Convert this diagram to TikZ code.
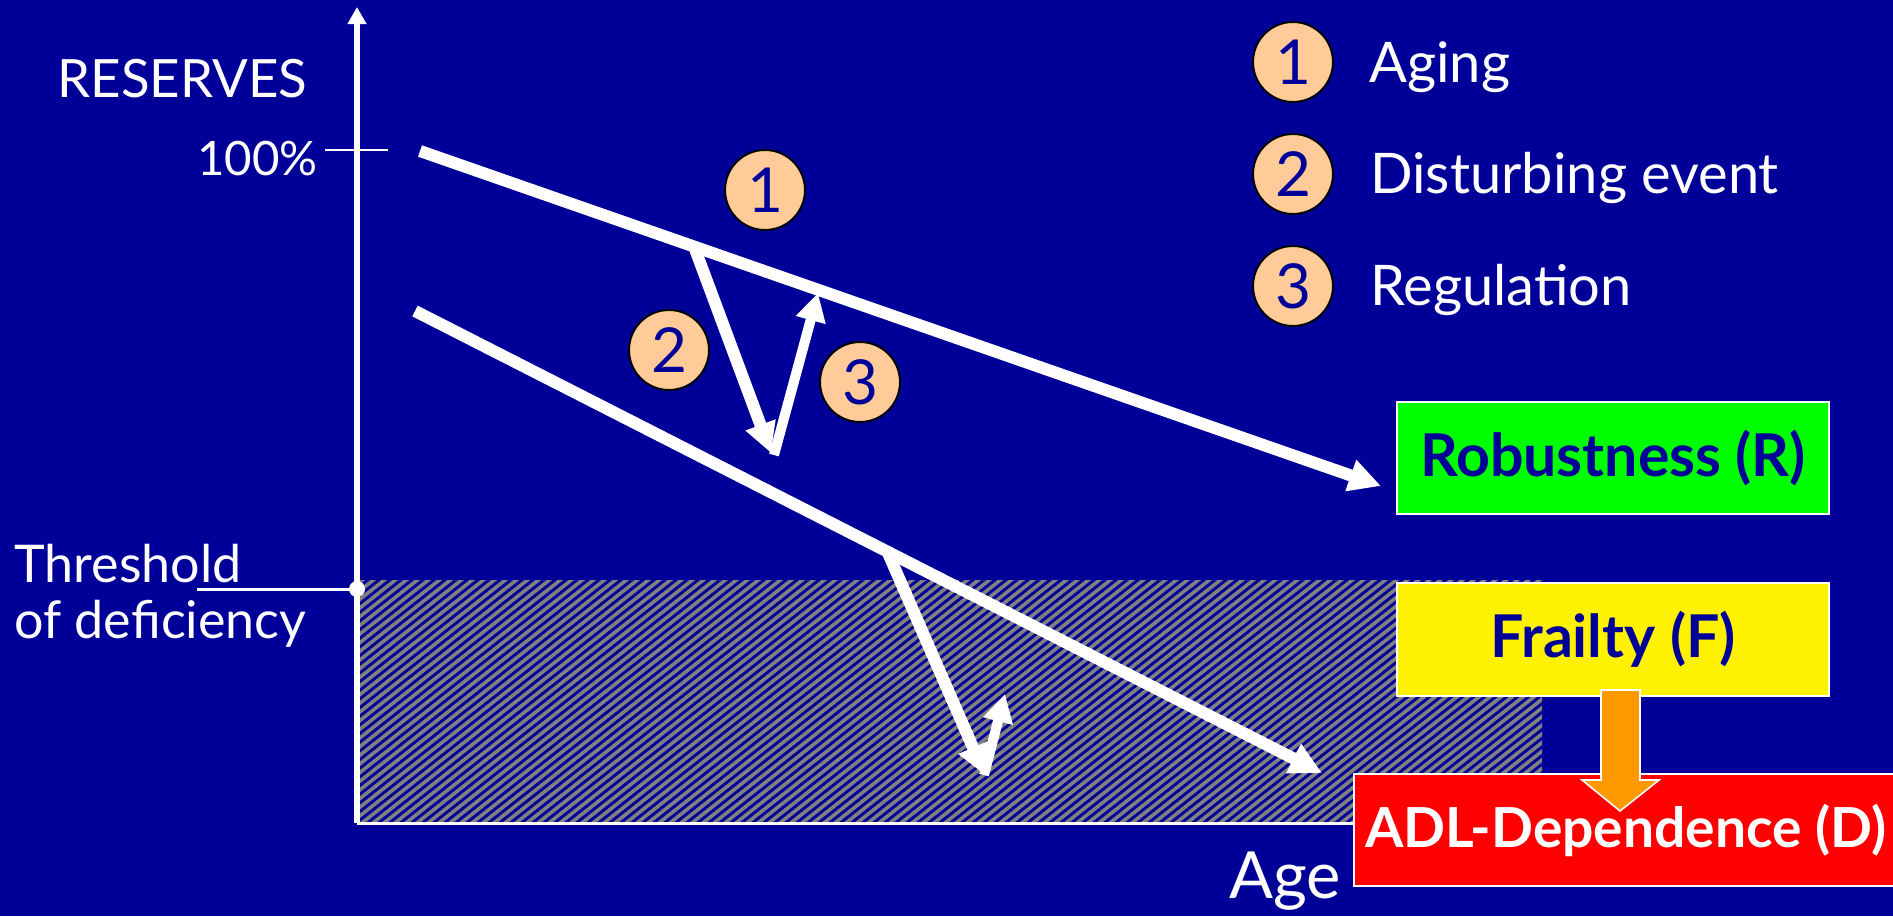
\documentclass[tikz,border=0pt]{standalone}
\usepackage{fontspec}
\setmainfont{Lato}
\usetikzlibrary{arrows.meta}
\definecolor{bg}{HTML}{000099}
\definecolor{peach}{HTML}{FFCC99}
\definecolor{hatchgray}{HTML}{808080}
\definecolor{orangearrow}{HTML}{FF9900}
\begin{document}
\begin{tikzpicture}[x=0.5pt,y=-0.5pt,
  lbl/.style={text=white, inner sep=0pt, font=\fontsize{26.4}{30}\selectfont},
  legtext/.style={lbl, anchor=base west, font=\fontsize{28}{32}\selectfont},
  num/.style={circle, draw=black, line width=1pt, fill=peach, text=bg, minimum size=40pt, inner sep=0pt, font=\fontsize{31}{31}\selectfont},
  box/.style={draw=white, line width=1pt, text=bg, minimum width=216pt, minimum height=56pt, inner sep=0pt, font=\fontsize{29.5}{32}\selectfont\bfseries},
  mainarrow/.style={white, line width=6pt, -{Triangle[length=16pt,width=15.5pt]}},
  eventarrow/.style={white, line width=6pt, -{Triangle[length=15pt,width=15pt]}},
  regarrow/.style={white, line width=5pt, -{Triangle[length=14pt,width=14.5pt]}},
  hatchline/.style={hatchgray, line width=1.8pt},
  axis/.style={white, line width=3pt},
  thinline/.style={white, line width=1.5pt}
]
\fill[bg] (0,0) rectangle (1893,916);
\useasboundingbox (0,0) rectangle (1893,916);

% hatched deficiency zone
\begin{scope}
  \clip (357,580) rectangle (1542,823);
  \foreach \k in {0,...,136} {
    \draw[hatchline] ({50+\k*11},826) -- ++(320,-252);
  }
\end{scope}

% axes
\coordinate (O) at (357,823);
\coordinate (ytop) at (357,7);
\coordinate (xend) at (1360,823);
\draw[axis, -{Triangle[length=8.5pt,width=9pt]}] (O) -- (ytop);
\draw[thinline] (O) -- (xend);
\coordinate (tickL) at (325,150);
\coordinate (tickR) at (388,150);
\draw[white, line width=1pt] (tickL) -- (tickR);
\coordinate (thrL) at (197,589);
\node[circle, fill=white, minimum size=8pt, inner sep=0pt] (thrdot) at (357,589) {};
\draw[thinline] (thrL) -- (thrdot.center);

% labels
\node[lbl, anchor=base west] (res) at (57,97) {RESERVES};
\node[lbl, anchor=base east, font=\fontsize{23.7}{28}\selectfont] (pct) at (318,175) {100\%};
\node[lbl, anchor=base west, font=\fontsize{26}{30}\selectfont] (thr1) at (14,582) {Threshold};
\node[lbl, anchor=base west, font=\fontsize{26}{30}\selectfont] (thr2) at (14,638) {of deficiency};
\node[lbl, anchor=base west, font=\fontsize{32.5}{36}\selectfont] (age) at (1229,898) {Age};

% trajectories
\coordinate (u0) at (420,151);
\coordinate (u1) at (1381,486);
\coordinate (l0) at (415,311);
\coordinate (l1) at (1322,773);
\draw[mainarrow] (u0) -- (u1);
\draw[mainarrow] (l0) -- (l1);

\coordinate (d0) at (695,249);
\coordinate (d1) at (771,453);
\coordinate (d1b) at (774,455);
\coordinate (r1) at (818,293);
\draw[eventarrow] (d0) -- (d1);
\draw[regarrow] (d1b) -- (r1);

\coordinate (e0) at (888,553);
\coordinate (e1) at (985,775);
\coordinate (e1b) at (984,775);
\coordinate (f1) at (1005,694);
\draw[eventarrow] (e0) -- (e1);
\draw[regarrow] (e1b) -- (f1);

% numbered circles in graph
\node[num] (c1) at (765,190) {1};
\node[num] (c2) at (669,350) {2};
\node[num] (c3) at (860,382) {3};

% legend
\node[num] (L1) at (1293,62) {1};
\node[num] (L2) at (1293,174) {2};
\node[num] (L3) at (1293,286) {3};
\node[legtext] (t1) at (1369,82) {Aging};
\node[legtext] (t2) at (1370,193) {Disturbing event};
\node[legtext] (t3) at (1370,305) {Regulation};

% outcome boxes
\node[box, fill=green] (R) at (1613,458) {Robustness (R)};
\node[box, fill=yellow, minimum height=56.5pt] (F) at (1613,639.5) {Frailty (F)};
\node[box, fill=red, text=white, minimum width=272pt, font=\fontsize{27.6}{32}\selectfont\bfseries] (D) at (1626,830) {ADL-Dependence (D)};

% orange transition arrow
\fill[orangearrow, draw=white, line width=0.8pt]
  (1601,690) -- (1640,690) -- (1640,780) -- (1659,780) -- (1620,811) -- (1582,780) -- (1601,780) -- cycle;
\end{tikzpicture}
\end{document}
